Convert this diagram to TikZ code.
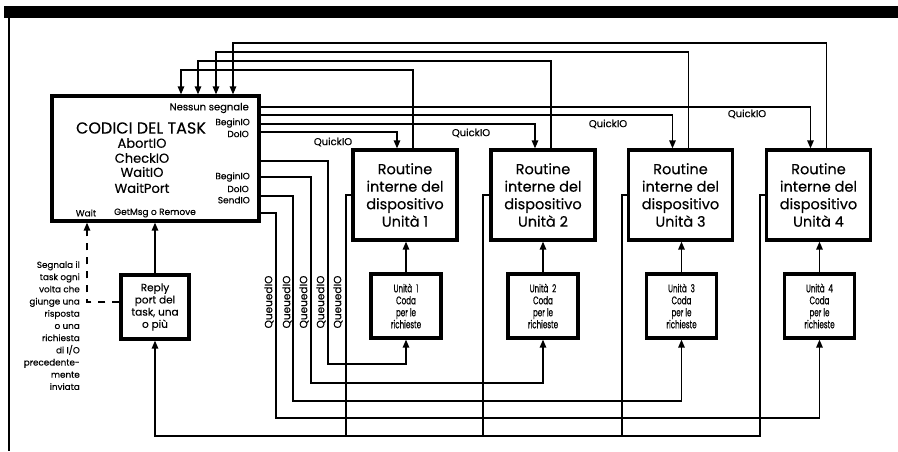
\documentclass[tikz,border=0pt]{standalone}
\usepackage{fontspec}
\setmainfont{Poppins}[FakeBold=0.35]
\newfontfamily\condfont{Poppins}[FakeStretch=0.65,FakeBold=0.35]
\usetikzlibrary{arrows.meta,calc}
\begin{document}
\begin{tikzpicture}[x=1pt,y=-1pt,
  conn/.style={line width=1.4pt},
  arr/.style={conn,-{Triangle[length=8pt,width=6.5pt]}},
  box/.style={draw,line width=3.3pt,inner sep=0pt,align=center},
  rout/.style={box,minimum width=104pt,minimum height=90pt,font=\fontsize{14.5}{17.5}\selectfont},
  queue/.style={box,minimum width=70pt,minimum height=64pt,font=\condfont\fontsize{11}{12}\selectfont},
  lbl/.style={inner sep=0pt},
  small/.style={lbl,font=\fontsize{9}{11}\selectfont},
  mid/.style={lbl,font=\fontsize{13}{15}\selectfont},
  ql/.style={lbl,font=\fontsize{10}{12}\selectfont},
]
\useasboundingbox (0,0) rectangle (898,451);
\fill[white] (0,0) rectangle (898,451);
% frame
\fill[black] (4,6) rectangle (898,18);
\draw[line width=1.6pt] (9,18) -- (9,451);

% task box
\node[box,minimum width=207pt,minimum height=125pt] (task) at (155.5,158.5) {};
\node[lbl,anchor=east,font=\fontsize{10}{12}\selectfont] (ns) at (249,108) {Nessun segnale};
\node[lbl,font=\fontsize{16}{18}\selectfont] (cod) at (141,128) {CODICI DEL TASK};
\node[mid] (ab) at (142,143) {AbortIO};
\node[mid] (ch) at (142,158) {CheckIO};
\node[mid] (wi) at (142,172) {WaitIO};
\node[mid] (wp) at (142,188) {WaitPort};
\node[small,anchor=east] (b1) at (250,123) {BeginIO};
\node[small,anchor=east] (d1) at (249,134) {DoIO};
\node[small,anchor=east] (b2) at (250,177) {BeginIO};
\node[small,anchor=east] (d2) at (249,189) {DoIO};
\node[small,anchor=east] (s2) at (250,200) {SendIO};
\node[small] (wt) at (86,213) {Wait};
\node[small] (gm) at (155,213) {GetMsg o Remove};

% reply port
\node[box,minimum width=68pt,minimum height=64pt,font=\fontsize{10.5}{12.2}\selectfont] (reply) at (155,307) {Reply\\port del\\task, una\\o più};

% annotation
\node[lbl,anchor=north east,align=right,font=\fontsize{8.8}{12.2}\selectfont] (note) at (80,261)
  {Segnala il\\task ogni\\volta che\\giunge una\\risposta\\o una\\richiesta\\di I/O\\precedente-\\mente\\inviata};

% routines
\node[rout] (r1) at (405,195) {Routine\\interne del\\dispositivo\\Unità 1};
\node[rout] (r2) at (543,195) {Routine\\interne del\\dispositivo\\Unità 2};
\node[rout] (r3) at (680.5,195) {Routine\\interne del\\dispositivo\\Unità 3};
\node[rout] (r4) at (818.5,195) {Routine\\interne del\\dispositivo\\Unità 4};

% queues
\node[queue] (q1) at (406,306) {Unità\ \ 1\\Coda\\per le\\richieste};
\node[queue] (q2) at (543,306) {Unità\ \ 2\\Coda\\per le\\richieste};
\node[queue] (q3) at (681.5,306) {Unità\ \ 3\\Coda\\per le\\richieste};
\node[queue] (q4) at (819.5,306) {Unità\ \ 4\\Coda\\per le\\richieste};

% QuickIO
\draw[arr] (task.east |- 0,132) -| ($(r1.north)+(-8,0)$);
\draw[arr] (task.east |- 0,124) -| ($(r2.north)+(-8,0)$);
\draw[arr] (task.east |- 0,115) -| ($(r3.north)+(-8,0)$);
\draw[arr] (task.east |- 0,107) -| ($(r4.north)+(-8,0)$);
\node[ql] (qk1) at (333,142) {QuickIO};
\node[ql] (qk2) at (471,133) {QuickIO};
\node[ql] (qk3) at (608,124) {QuickIO};
\node[ql] (qk4) at (747,114) {QuickIO};

% signals back to task
\draw[arr] ($(r1.north)+(8,0)$) |- (181,70) -- (task.north -| 181,0);
\draw[arr] ($(r2.north)+(8,0)$) |- (198,61) -- (task.north -| 198,0);
\draw[arr] ($(r3.north)+(8,0)$) |- (216,52) -- (task.north -| 216,0);
\draw[arr] ($(r4.north)+(8,0)$) |- (233,43) -- (task.north -| 233,0);

% QueuedIO lines
\draw[arr] (task.east |- 0,161) -| (328,364) -| (q1.south);
\draw[arr] (task.east |- 0,177) -| (311,383) -| (q2.south);
\draw[arr] (task.east |- 0,196) -| (293,401) -| (q3.south);
\draw[arr] (task.east |- 0,213) -| (276,418) -| (q4.south);
\foreach \i/\x in {1/269,2/287,3/304,4/321,5/338}
  \node[lbl,font=\fontsize{10.5}{12}\selectfont,rotate=90] (qd\i) at (\x,302) {QueuedIO};

% queue to routine
\draw[arr] (q1.north) -- (q1.north |- r1.south);
\draw[arr] (q2.north) -- (q2.north |- r2.south);
\draw[arr] (q3.north) -- (q3.north |- r3.south);
\draw[arr] (q4.north) -- (q4.north |- r4.south);

% replies to reply port
\draw[arr] (r4.west) -| (760,436) -| (reply.south);
\draw[conn] (r3.west) -| (622,436);
\draw[conn] (r2.west) -| (483,436);
\draw[conn] (r1.west) -| (346,436);

% reply port to task
\draw[arr] (reply.north) -- (reply.north |- task.south);
\draw[conn,dash pattern=on 7pt off 7pt,-{Triangle[length=8pt,width=6.5pt]}] (reply.west |- 0,302) -| (task.south -| 87,0);
\end{tikzpicture}
\end{document}
